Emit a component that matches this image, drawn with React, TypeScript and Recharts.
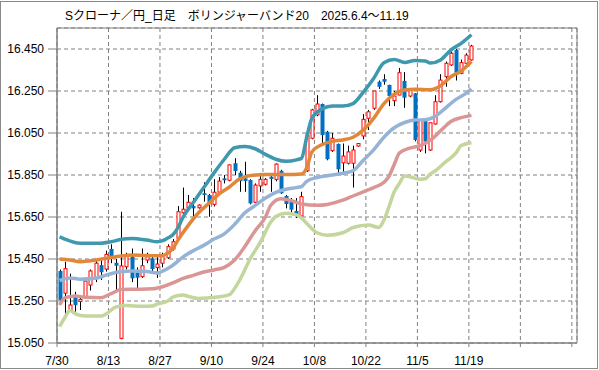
import React from "react";
import {
  ComposedChart,
  Bar,
  Line,
  XAxis,
  YAxis,
  CartesianGrid,
  ReferenceArea,
} from "recharts";

// daily candles, index 0 = 7/30
const opens = [
  15.393, 15.287, 15.207, 15.27, 15.248, 15.27, 15.326, 15.358, 15.421, 15.402,
  15.498, 15.432, 15.072, 15.413, 15.461, 15.393, 15.366, 15.445, 15.453, 15.409,
  15.43, 15.456, 15.498, 15.549, 15.67, 15.694, 15.702, 15.694, 15.763, 15.755,
  15.71, 15.768, 15.834, 15.825, 15.906, 15.861, 15.834, 15.826, 15.72, 15.798,
  15.806, 15.842, 15.829, 15.87, 15.75, 15.731, 15.679, 15.655, 15.87, 16.025,
  16.136, 16.188, 16.056, 15.966, 15.998, 15.908, 15.906, 15.906, 15.988, 16.036,
  16.12, 16.168, 16.294, 16.307, 16.279, 16.204, 16.231, 16.298, 16.226, 16.239,
  15.969, 16.107, 15.969, 16.093, 16.199, 16.318, 16.374, 16.445, 16.334, 16.382,
  16.398,
];
const closes = [
  15.255, 15.404, 15.231, 15.23, 15.258, 15.345, 15.393, 15.43, 15.387, 15.472,
  15.461, 15.418, 15.417, 15.469, 15.358, 15.361, 15.418, 15.472, 15.402, 15.426,
  15.47, 15.509, 15.532, 15.675, 15.687, 15.72, 15.691, 15.707, 15.755, 15.72,
  15.768, 15.821, 15.825, 15.898, 15.869, 15.821, 15.822, 15.715, 15.802, 15.829,
  15.829, 15.831, 15.902, 15.763, 15.712, 15.685, 15.655, 15.747, 16.04, 16.16,
  16.188, 16.04, 15.925, 16.025, 15.877, 15.94, 15.96, 15.969, 16.0, 16.115,
  16.151, 16.25, 16.27, 16.294, 16.226, 16.226, 16.337, 16.218, 16.255, 16.017,
  16.109, 16.009, 16.099, 16.199, 16.302, 16.382, 16.43, 16.337, 16.385, 16.421,
  16.464,
];
const highs = [
  15.4, 15.437, 15.38, 15.294, 15.27, 15.35, 15.4, 15.45, 15.45, 15.49,
  15.52, 15.45, 15.675, 15.48, 15.5, 15.41, 15.5, 15.48, 15.46, 15.46,
  15.48, 15.52, 15.545, 15.702, 15.79, 15.755, 15.74, 15.71, 15.815, 15.76,
  15.83, 15.84, 15.85, 15.9, 15.93, 15.87, 15.913, 15.83, 15.81, 15.86,
  15.835, 15.85, 15.905, 15.875, 15.755, 15.74, 15.74, 15.77, 16.045, 16.165,
  16.23, 16.19, 16.06, 16.05, 16.0, 16.0, 15.99, 15.99, 16.0, 16.14,
  16.16, 16.25, 16.3, 16.33, 16.28, 16.25, 16.36, 16.34, 16.26, 16.24,
  16.11, 16.11, 16.1, 16.23, 16.33, 16.39, 16.44, 16.45, 16.4, 16.43,
  16.47,
];
const lows = [
  15.25, 15.188, 15.2, 15.199, 15.207, 15.265, 15.3, 15.34, 15.35, 15.39,
  15.43, 15.29, 15.068, 15.4, 15.34, 15.312, 15.36, 15.43, 15.38, 15.36,
  15.41, 15.45, 15.49, 15.54, 15.66, 15.68, 15.65, 15.69, 15.723, 15.651,
  15.7, 15.76, 15.81, 15.82, 15.85, 15.77, 15.77, 15.71, 15.715, 15.77,
  15.8, 15.77, 15.82, 15.76, 15.691, 15.66, 15.645, 15.65, 15.865, 16.02,
  16.13, 15.99, 15.92, 15.96, 15.85, 15.85, 15.9, 15.79, 15.985, 16.02,
  16.064, 16.16, 16.26, 16.28, 16.178, 16.178, 16.23, 16.17, 16.22, 16.01,
  15.96, 15.953, 15.965, 16.09, 16.195, 16.27, 16.37, 16.3, 16.33, 16.38,
  16.395,
];

// bollinger bands 20, [day index, value]
const upper2: [number, number][] = [
  [0, 15.556], [1, 15.545], [4, 15.525], [8, 15.525], [10, 15.532], [12, 15.544],
  [14, 15.548], [17, 15.54], [19, 15.532], [20, 15.537], [21, 15.55], [22, 15.565],
  [23, 15.6], [24, 15.65], [26, 15.72], [28, 15.79], [30, 15.86], [32, 15.925],
  [34, 15.98], [36, 15.986], [38, 15.975], [40, 15.948], [42, 15.925], [44, 15.915],
  [46, 15.922], [47, 15.93], [48, 16.03], [49, 16.12], [51, 16.165], [53, 16.178],
  [55, 16.178], [57, 16.19], [59, 16.245], [61, 16.31], [63, 16.385], [65, 16.4],
  [67, 16.386], [69, 16.395], [71, 16.393], [72, 16.383], [74, 16.398], [76, 16.445],
  [78, 16.477], [80, 16.518],
];
const upper1: [number, number][] = [
  [0, 15.45], [2, 15.445], [4, 15.437], [6, 15.442], [9, 15.453], [12, 15.464],
  [14, 15.469], [17, 15.466], [20, 15.466], [21, 15.478], [22, 15.5], [23, 15.54],
  [25, 15.61], [27, 15.67], [29, 15.715], [31, 15.76], [33, 15.793], [35, 15.832],
  [37, 15.847], [40, 15.852], [44, 15.852], [47, 15.855], [48, 15.885], [49, 15.96],
  [51, 15.995], [53, 16.01], [55, 16.017], [57, 16.03], [59, 16.065], [61, 16.12],
  [63, 16.19], [65, 16.235], [67, 16.255], [69, 16.258], [72, 16.256], [74, 16.275],
  [76, 16.318], [78, 16.345], [80, 16.39],
];
const middle: [number, number][] = [
  [0, 15.347], [2, 15.36], [4, 15.354], [7, 15.358], [9, 15.373], [12, 15.39],
  [14, 15.393], [17, 15.39], [19, 15.383], [20, 15.392], [21, 15.405], [22, 15.42],
  [24, 15.46], [26, 15.49], [28, 15.515], [30, 15.545], [32, 15.57], [34, 15.615],
  [36, 15.67], [38, 15.705], [40, 15.74], [42, 15.767], [44, 15.782], [46, 15.79],
  [47, 15.795], [48, 15.82], [50, 15.838], [53, 15.85], [55, 15.858], [57, 15.87],
  [59, 15.92], [61, 15.97], [63, 16.03], [65, 16.075], [67, 16.1], [69, 16.112],
  [71, 16.113], [73, 16.13], [75, 16.17], [77, 16.21], [79, 16.24], [80, 16.26],
];
const lower1: [number, number][] = [
  [0, 15.231], [1, 15.265], [3, 15.274], [5, 15.268], [8, 15.266], [10, 15.285],
  [12, 15.305], [15, 15.306], [18, 15.308], [20, 15.318], [22, 15.336], [24, 15.358],
  [26, 15.372], [28, 15.388], [30, 15.398], [32, 15.41], [34, 15.445], [36, 15.51],
  [38, 15.585], [40, 15.65], [41, 15.705], [43, 15.737], [45, 15.728], [47, 15.712],
  [50, 15.706], [52, 15.71], [55, 15.73], [57, 15.75], [59, 15.77], [61, 15.79],
  [63, 15.815], [64, 15.845], [65, 15.9], [66, 15.955], [68, 15.978], [70, 15.99],
  [72, 16.015], [74, 16.06], [76, 16.105], [78, 16.123], [80, 16.134],
];
const lower2: [number, number][] = [
  [0, 15.128], [1, 15.17], [2, 15.205], [3, 15.19], [5, 15.178], [8, 15.178],
  [9, 15.188], [11, 15.222], [13, 15.228], [16, 15.225], [18, 15.226], [19, 15.236],
  [21, 15.25], [22, 15.268], [24, 15.279], [25, 15.272], [27, 15.262], [29, 15.265],
  [31, 15.27], [33, 15.28], [34, 15.31], [35, 15.35], [37, 15.45], [39, 15.53],
  [41, 15.625], [42, 15.652], [44, 15.668], [46, 15.66], [47, 15.645], [48, 15.62],
  [50, 15.575], [52, 15.563], [55, 15.575], [57, 15.6], [60, 15.612], [62, 15.6],
  [63, 15.635], [64, 15.7], [65, 15.77], [66, 15.81], [67, 15.845], [68, 15.842],
  [70, 15.83], [71, 15.832], [72, 15.855], [73, 15.87], [75, 15.913], [77, 15.955],
  [78, 15.99], [80, 16.004],
];

const xTicks = [0, 10, 20, 30, 40, 50, 60, 70, 80, 90, 100];
const xLabels = ["7/30", "8/13", "8/27", "9/10", "9/24", "10/8", "10/22", "11/5", "11/19", "", ""];
const yTicks = [15.05, 15.25, 15.45, 15.65, 15.85, 16.05, 16.25, 16.45];

const title = "Sクローナ／円_日足　ボリンジャーバンド20　2025.6.4～11.19";

const candles = opens.map((o, i) => ({
  x: i + 0.5,
  open: o,
  close: closes[i],
  high: highs[i],
  low: lows[i],
}));

const pts = (arr: [number, number][]) => arr.map(([i, v]) => ({ x: i + 0.5, v }));

const Candle = (props: any) => {
  const { x, y, width, height, payload } = props;
  const { open, close, high, low } = payload;
  const py = (v: number) => y + ((high - v) / (high - low)) * height;
  const cx = Math.floor(x + width / 2) + 0.5;
  const top = py(Math.max(open, close));
  const bot = py(Math.min(open, close));
  const up = close >= open;
  return (
    <g>
      <line x1={cx} x2={cx} y1={y} y2={y + height} stroke="#000" strokeWidth={1} />
      {up ? (
        <rect x={cx - 1.5} y={top} width={3} height={Math.max(bot - top, 1)} fill="#fff" stroke="#ff0000" strokeWidth={1} />
      ) : (
        <rect x={cx - 2} y={top} width={4} height={Math.max(bot - top, 1)} fill="#0070c0" />
      )}
    </g>
  );
};

const font = '"Liberation Sans", Arial, "Noto Sans CJK JP", sans-serif';

const bands = [
  { data: upper2, color: "#3f98ad" },
  { data: upper1, color: "#e0873a" },
  { data: middle, color: "#95b3d7" },
  { data: lower1, color: "#d99694" },
  { data: lower2, color: "#c3d69b" },
];

export default function App() {
  return (
    <div style={{ position: "relative", width: 599, height: 370, background: "#fff", fontFamily: font }}>
      <style>{"body{margin:0}"}</style>
      <div
        style={{
          position: "absolute",
          left: 0,
          top: 1,
          width: 598,
          height: 368,
          border: "1px solid #8a8a8a",
          boxSizing: "border-box",
        }}
      />
      <div style={{ position: "absolute", left: 65, top: 6, fontSize: 12, whiteSpace: "pre", color: "#000" }}>
        {title}
      </div>
      <div style={{ position: "absolute", left: 0, top: 0 }}>
        <ComposedChart
          width={599}
          height={370}
          data={candles}
          margin={{ top: 28, right: 22, bottom: 0, left: 0 }}
        >
          <CartesianGrid stroke="#808080" strokeDasharray="4 3" />
          <XAxis
            type="number"
            dataKey="x"
            domain={[0, 101]}
            ticks={xTicks}
            interval={0}
            allowDataOverflow
            height={27}
            tickFormatter={(v: number) => xLabels[xTicks.indexOf(v)] ?? ""}
            tick={{ fill: "#000", fontSize: 12, fontFamily: font }}
            tickSize={4}
            tickMargin={9}
            stroke="#808080"
          />
          <YAxis
            type="number"
            domain={[15.05, 16.55]}
            ticks={yTicks}
            interval={0}
            allowDataOverflow
            width={57}
            tickFormatter={(v: number) => v.toFixed(3)}
            tick={{ fill: "#000", fontSize: 12, fontFamily: font }}
            tickSize={9}
            tickMargin={4}
            stroke="#808080"
          />
          <ReferenceArea x1={0} x2={101} y1={15.05} y2={16.55} fill="none" stroke="#808080" strokeWidth={1} />
          <Bar
            dataKey={(d: any) => [d.low, d.high]}
            barSize={4}
            shape={Candle}
            isAnimationActive={false}
          />
          {bands.map((b, k) => (
            <Line
              key={k}
              data={pts(b.data)}
              dataKey="v"
              type="monotone"
              dot={false}
              activeDot={false}
              stroke={b.color}
              strokeWidth={3.5}
              isAnimationActive={false}
            />
          ))}
        </ComposedChart>
      </div>
    </div>
  );
}
